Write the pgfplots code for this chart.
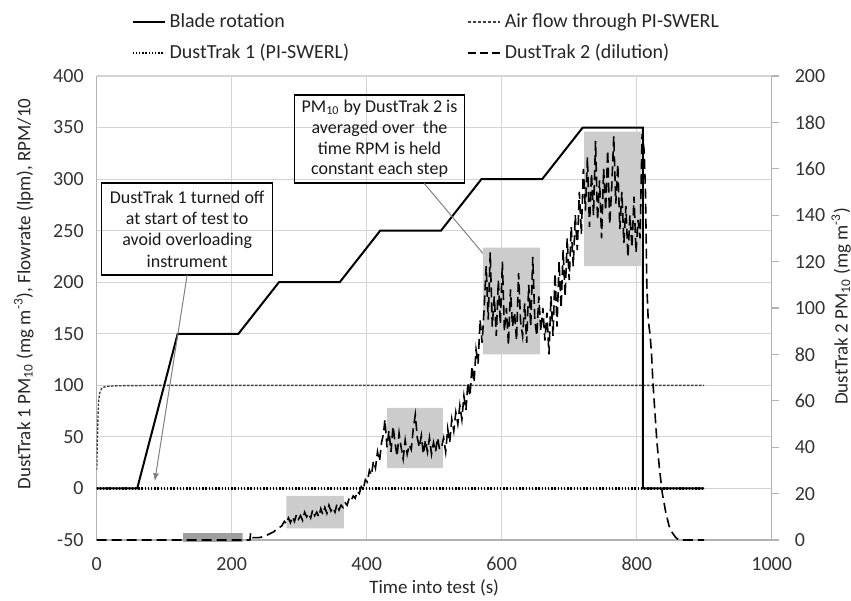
\documentclass[border=0pt]{standalone}
\usepackage{fontspec}
\setmainfont{Carlito}
\usepackage{pgfplots}
\pgfplotsset{compat=1.18}
\usetikzlibrary{arrows.meta}
\tikzset{
  bladest/.style={black, line width=1pt},
  airst/.style={black!75, line width=0.7pt, dash pattern=on 1.2pt off 0.8pt},
  dtonest/.style={black, line width=1.1pt, dash pattern=on 0.7pt off 0.9pt},
  dttwost/.style={black, line width=0.8pt, dash pattern=on 5pt off 2.5pt},
}
\begin{document}
\begin{tikzpicture}
\useasboundingbox (-48.35pt,-30pt) rectangle (377.15pt,270pt);
\begin{axis}[
  at={(0pt,0pt)}, anchor=south west,
  scale only axis, width=337.5pt, height=232pt,
  xmin=0, xmax=1000, ymin=-50, ymax=400,
  xtick={0,200,400,600,800,1000}, xticklabels={0,200,400,600,800,1000},
  ytick={-50,0,50,100,150,200,250,300,350,400},
  yticklabels={-50,0,50,100,150,200,250,300,350,400},
  axis x line*=bottom, axis y line*=left,
  axis line style={-, black!30, line width=0.7pt},
  major tick length=0pt,
  grid=major, grid style={black!17, line width=0.6pt},
  tick label style={font=\fontsize{10}{12}\selectfont, text=black!80},
  xticklabel style={yshift=-5pt},
  yticklabel style={xshift=-3pt},
  xlabel={Time into test (s)},
  ylabel={DustTrak 1 PM\textsubscript{10} (mg m\textsuperscript{-3}), Flowrate (lpm), RPM/10},
  label style={font=\fontsize{9.5}{11}\selectfont, text=black!85},
  ylabel style={at={(axis description cs:-0.108,0.53)}, anchor=center},
  xlabel style={at={(axis description cs:0.5,-0.104)}, anchor=center},
]
% Air flow
\addplot[airst] coordinates {(0,18)(1,45)(2,72)(3,86)(5,94)(8,97.5)(14,99)(30,99.6)(100,100)(300,100)(500,100)(700,100)(900,100)};
% DustTrak 1
\addplot[dtonest] coordinates {(0,0)(900,0)};
% Blade rotation
\addplot[bladest] coordinates {(0,0)(60,0)(120,150)(210,150)(270,200)(360,200)(420,250)(510,250)(570,300)(660,300)(720,350)(809,350)(809,0)(900,0)};
% annotations
\node[draw=black, line width=0.7pt, minimum width=85.5pt, minimum height=46pt, align=center,
      font=\fontsize{9}{10.65}\selectfont, text=black!90, inner sep=0pt]
  at (axis cs:134,251.7) {DustTrak 1 turned off\\at start of test to\\avoid overloading\\instrument};
\draw[black!50, line width=0.5pt, -{Latex[length=4pt,width=3pt]}] (axis cs:134,207) -- (axis cs:86,7);
\node[draw=black, line width=0.7pt, minimum width=85pt, minimum height=44pt, align=center,
      font=\fontsize{9}{10.35}\selectfont, text=black!90, inner sep=0pt]
  at (axis cs:419,338.8) {PM\textsubscript{10} by DustTrak 2 is\\averaged over~ the\\time RPM is held\\constant each step};
\draw[black!50, line width=0.5pt] (axis cs:485,296) -- (axis cs:640,175);
\end{axis}
\begin{axis}[
  at={(0pt,0pt)}, anchor=south west,
  scale only axis, width=337.5pt, height=232pt,
  xmin=0, xmax=1000, ymin=0, ymax=200,
  axis x line=none, axis y line*=right,
  axis line style={-, black!30, line width=0.7pt},
  ytick={0,20,40,60,80,100,120,140,160,180,200},
  yticklabels={0,20,40,60,80,100,120,140,160,180,200},
  tick align=outside, major tick length=3.5pt, tick style={black!30, line width=0.6pt},
  yticklabel style={font=\fontsize{10}{12}\selectfont, text=black!80, xshift=4.5pt},
  ylabel={DustTrak 2 PM\textsubscript{10} (mg m\textsuperscript{-3})},
  ylabel style={at={(axis description cs:1.103,0.504)}, anchor=center, font=\fontsize{9.5}{11}\selectfont, text=black!85},
  clip=false,
  legend columns=2,
  legend cell align=left,
  legend image code/.code={\draw[#1] (0pt,0pt) -- (16pt,0pt);},
  legend style={draw=none, fill=none, at={(0.042,1.153)}, anchor=north west,
    font=\fontsize{10}{12}\selectfont, text=black!85,
    /tikz/every even column/.append style={column sep=57pt}, row sep=3pt},
]
% averaging boxes
\addplot[fill=black!38, draw=none, forget plot] coordinates {(128,-0.8)(216,-0.8)(216,3)(128,3)(128,-0.8)};
\addplot[fill=black!20, draw=none, forget plot] coordinates {(281,5)(366,5)(366,19)(281,19)(281,5)};
\addplot[fill=black!20, draw=none, forget plot] coordinates {(430,31)(513,31)(513,57)(430,57)(430,31)};
\addplot[fill=black!20, draw=none, forget plot] coordinates {(572,80)(657,80)(657,126)(572,126)(572,80)};
\addplot[fill=black!20, draw=none, forget plot] coordinates {(722,118)(806,118)(806,176)(722,176)(722,118)};
\addlegendimage{bladest}
\addlegendentry{Blade rotation}
\addlegendimage{black!75, line width=0.7pt, dash pattern=on 1.5pt off 1pt}
\addlegendentry{Air flow through PI-SWERL}
\addlegendimage{dtonest}
\addlegendentry{DustTrak 1 (PI-SWERL)}
\addlegendimage{black, line width=0.8pt, dash pattern=on 4pt off 2pt}
\addlegendentry{DustTrak 2 (dilution)}
\addplot[dttwost, forget plot] coordinates {
(0,0)(222,0)(227,0)(228,3)(231,1)(240,1)(248,1.5)(255,2.5)(262,3.5)(268,5)(274,6)(278,8)
(281,7)(284,9.5)(287,7.5)(290,10)(293,8)(296,11)(299,9)(302,10.5)(305,8.5)(308,12)(311,10)(314,11.5)(317,9.5)(320,13)(323,10.5)(326,12)(329,10)(332,13.5)(335,11)(338,14)(341,11.5)(344,15)(347,12.5)(350,14)(353,12)(356,15.5)(359,13)(362,15)(365,14)
(368,16)(371,15)(374,18)(377,17)(380,19)(383,18)(386,21)(389,20)(392,23)(395,22)(398,26)(401,25)(404,30)(407,28)(410,34)(413,31)(416,38)(419,34)(422,42)
(425,46)(427,52)(430,40)(433,47)(436,38)(439,49)(442,42)(445,36)(448,46)(451,40)(454,35)(457,43)(460,37)(463,41)(466,39)(469,48)(472,54)(475,44)(478,40)(481,45)(484,37)(487,43)(490,38)(493,44)(496,37)(499,42)(502,38)(505,44)(508,39)
(511,40)(514,44)(517,38)(520,48)(523,42)(526,52)(529,47)(532,55)(535,50)(538,58)(541,52)(544,62)(547,56)(550,68)(553,62)(556,75)(559,68)(562,82)(565,76)(568,95)(571,85)
(574,100)(577,118)(580,95)(583,124)(586,92)(589,105)(592,88)(595,112)(598,93)(601,120)(604,90)(607,100)(610,84)(613,108)(616,92)(619,98)(622,86)(625,115)(628,94)(631,88)(634,102)(637,85)(640,110)(643,92)(646,122)(649,95)(652,88)(655,105)(658,90)(661,100)
(664,86)(667,98)(670,80)(673,105)(676,88)(679,115)(682,92)(685,120)(688,100)(691,125)(694,105)(697,130)(700,112)(703,135)(706,118)(709,140)(712,125)(715,150)(718,132)
(721,160)(724,142)(727,165)(730,135)(733,158)(736,140)(739,172)(742,138)(745,155)(748,130)(751,160)(754,142)(757,168)(760,136)(763,152)(766,174)(769,145)(772,162)(775,134)(778,150)(781,128)(784,144)(787,122)(790,140)(793,126)(796,148)(799,124)(802,138)(805,130)(808,175)(811,168)(813,150)
(815,110)(817,95)(820,88)(822,80)(824,68)(827,55)(830,42)(834,30)(838,20)(843,12)(848,6)(853,3)(858,1)(863,0)(900,0)
};
\end{axis}
\end{tikzpicture}
\end{document}
